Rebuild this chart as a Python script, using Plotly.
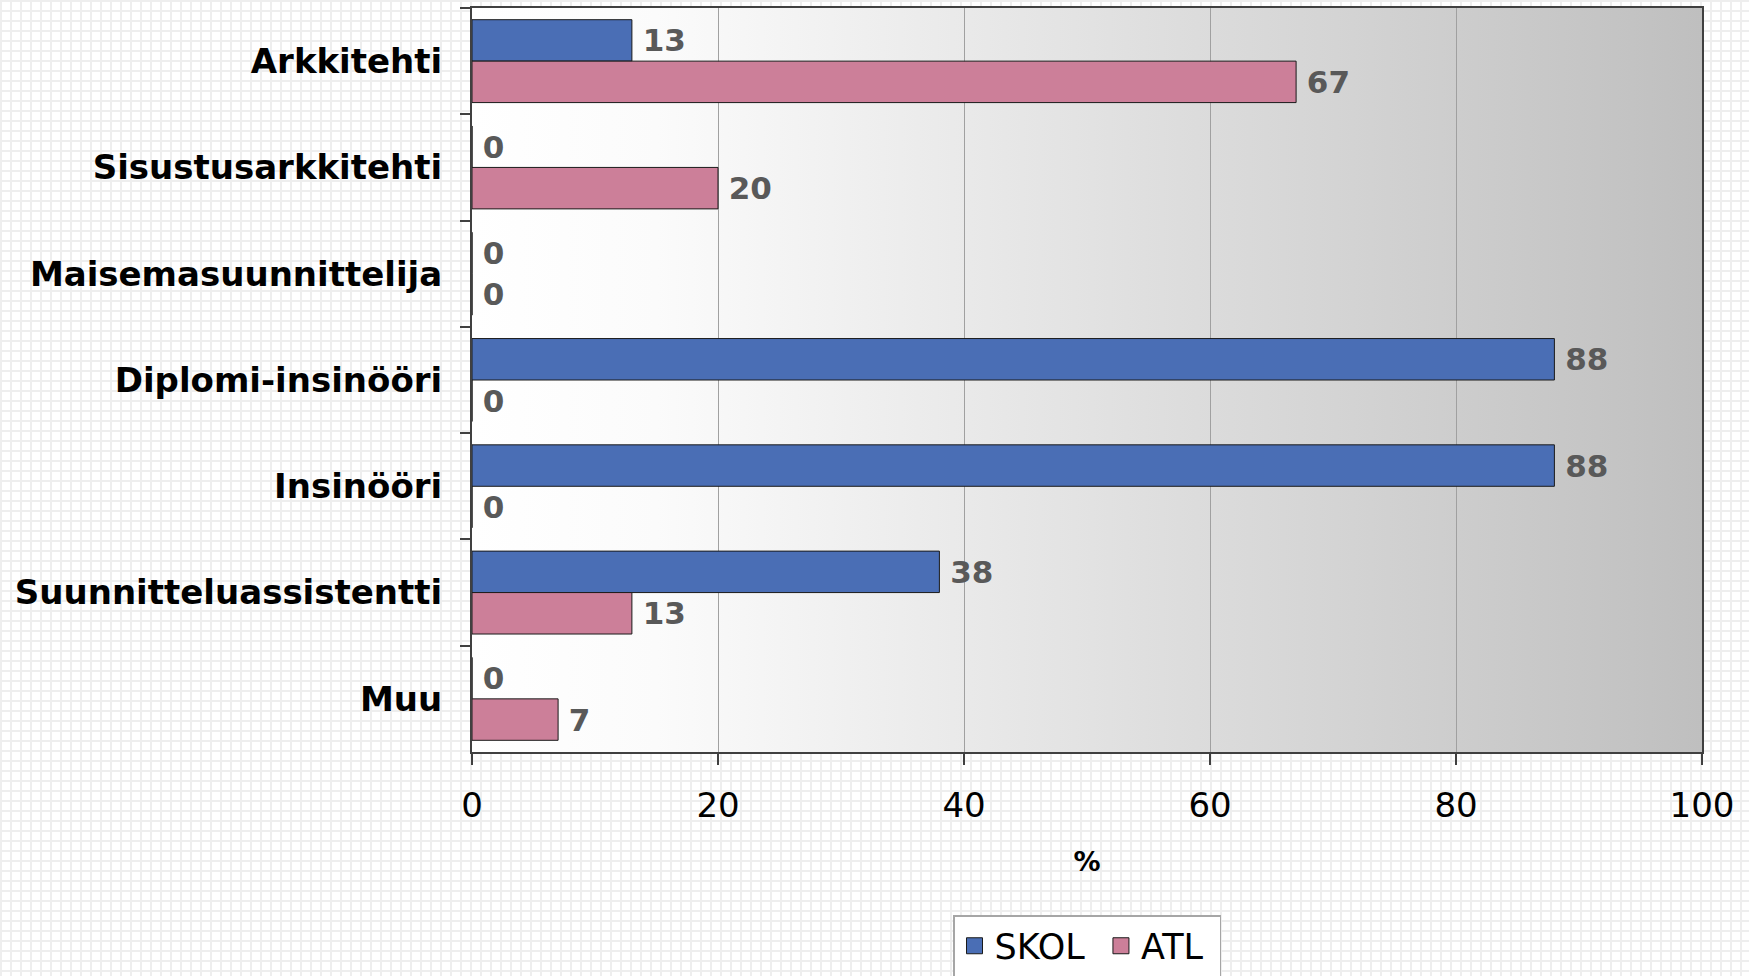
import base64
import plotly.graph_objects as go

categories = ["Arkkitehti", "Sisustusarkkitehti", "Maisemasuunnittelija",
              "Diplomi-insinööri", "Insinööri", "Suunnitteluassistentti", "Muu"]
skol = [13, 0, 0, 88, 88, 38, 0]
atl = [67, 20, 0, 0, 0, 13, 7]
x_ticks = [0, 20, 40, 60, 80, 100]

SKOL_COLOR = "#4a6eb5"
ATL_COLOR = "#cc7f99"

W, H = 1749, 976
ML, MR, MT, MB = 472, 47, 8, 224
PW, PH = W - ML - MR, H - MT - MB


def svg_uri(svg):
    return "data:image/svg+xml;base64," + base64.b64encode(svg.encode()).decode()


grid_svg = f'''<svg xmlns="http://www.w3.org/2000/svg" width="{W}" height="{H}">
<defs><pattern id="p" width="10" height="10" patternUnits="userSpaceOnUse">
<rect width="10" height="10" fill="#ffffff"/>
<rect x="0" y="0" width="10" height="2" fill="#eeeeee"/>
<rect x="0" y="0" width="2" height="10" fill="#eeeeee"/>
</pattern></defs>
<rect width="{W}" height="{H}" fill="url(#p)"/></svg>'''

grad_svg = f'''<svg xmlns="http://www.w3.org/2000/svg" width="{PW}" height="{PH}" preserveAspectRatio="none">
<defs><linearGradient id="g" x1="0" y1="0" x2="1" y2="0">
<stop offset="0" stop-color="#ffffff"/>
<stop offset="0.15" stop-color="#fbfbfb"/>
<stop offset="1" stop-color="#bfbfbf"/>
</linearGradient></defs>
<rect width="{PW}" height="{PH}" fill="url(#g)"/></svg>'''

label_font = dict(family="DejaVu Sans", size=31, color="#595959", weight="bold")
SP = "\u2005"
NB = "\u00a0"

fig = go.Figure()
fig.add_trace(go.Bar(
    y=categories, x=skol, name="SKOL", orientation="h",
    marker=dict(color=SKOL_COLOR, line=dict(color="#1a1a1a", width=1)),
    text=[SP + str(v) for v in skol], textposition="outside",
    textfont=label_font, cliponaxis=False, showlegend=False,
))
fig.add_trace(go.Bar(
    y=categories, x=atl, name="ATL", orientation="h",
    marker=dict(color=ATL_COLOR, line=dict(color="#1a1a1a", width=1)),
    text=[SP + str(v) for v in atl], textposition="outside",
    textfont=label_font, cliponaxis=False, showlegend=False,
))
# legend entries with larger square swatches
for name, col in (("SKOL", SKOL_COLOR), ("ATL", ATL_COLOR)):
    fig.add_trace(go.Scatter(
        x=[None], y=[None], mode="markers", name=name + NB,
        marker=dict(symbol="square", size=16, color=col, line=dict(color="#1a1a1a", width=1)),
        showlegend=True,
    ))

fig.update_layout(
    width=W, height=H,
    margin=dict(l=ML, r=MR, t=MT, b=MB, pad=0, autoexpand=False),
    paper_bgcolor="#ffffff",
    plot_bgcolor="rgba(0,0,0,0)",
    barmode="group", bargap=0.22, bargroupgap=0,
    font=dict(family="DejaVu Sans", color="#000000"),
    showlegend=True,
    legend=dict(
        orientation="h", x=0.5, xanchor="center",
        yref="container", y=1 - 915 / H, yanchor="top",
        bgcolor="#ffffff", bordercolor="#a6a6a6", borderwidth=1.5,
        font=dict(family="DejaVu Sans", size=35, color="#000000"),
        traceorder="normal", itemwidth=30, itemsizing="trace",
    ),
    xaxis=dict(
        range=[0, 100], tickvals=x_ticks, ticktext=[str(t) for t in x_ticks],
        automargin=False,
        showgrid=True, gridcolor="#a0a0a0", gridwidth=1,
        showline=True, linecolor="#404040", linewidth=2, mirror=True,
        ticks="outside", ticklen=11, tickwidth=1.5, tickcolor="#404040",
        tickfont=dict(family="DejaVu Sans", size=34, color="#000000"),
        ticklabelstandoff=11,
        zeroline=False,
        title=dict(text="%", font=dict(family="DejaVu Sans", size=27, color="#000000", weight="bold"),
                   standoff=28),
    ),
    yaxis=dict(
        autorange="reversed", type="category", automargin=False,
        showgrid=False, showline=True, linecolor="#404040", linewidth=2, mirror=True,
        ticks="outside", tickson="boundaries", ticklen=10, tickwidth=1.5, tickcolor="#404040",
        tickfont=dict(family="DejaVu Sans", size=34, color="#000000", weight="bold"),
        ticklabelstandoff=21,
    ),
    images=[
        dict(source=svg_uri(grid_svg), xref="paper", yref="paper",
             x=-ML / PW, y=1 + MT / PH, sizex=W / PW, sizey=H / PH,
             xanchor="left", yanchor="top", sizing="stretch", layer="below"),
        dict(source=svg_uri(grad_svg), xref="paper", yref="paper",
             x=0, y=1, sizex=1, sizey=1,
             xanchor="left", yanchor="top", sizing="stretch", layer="below"),
    ],
)

fig.write_html(
    "out.html",
    config={"displayModeBar": False},
    post_script="document.body.style.margin='0';document.body.style.overflow='hidden';",
)
